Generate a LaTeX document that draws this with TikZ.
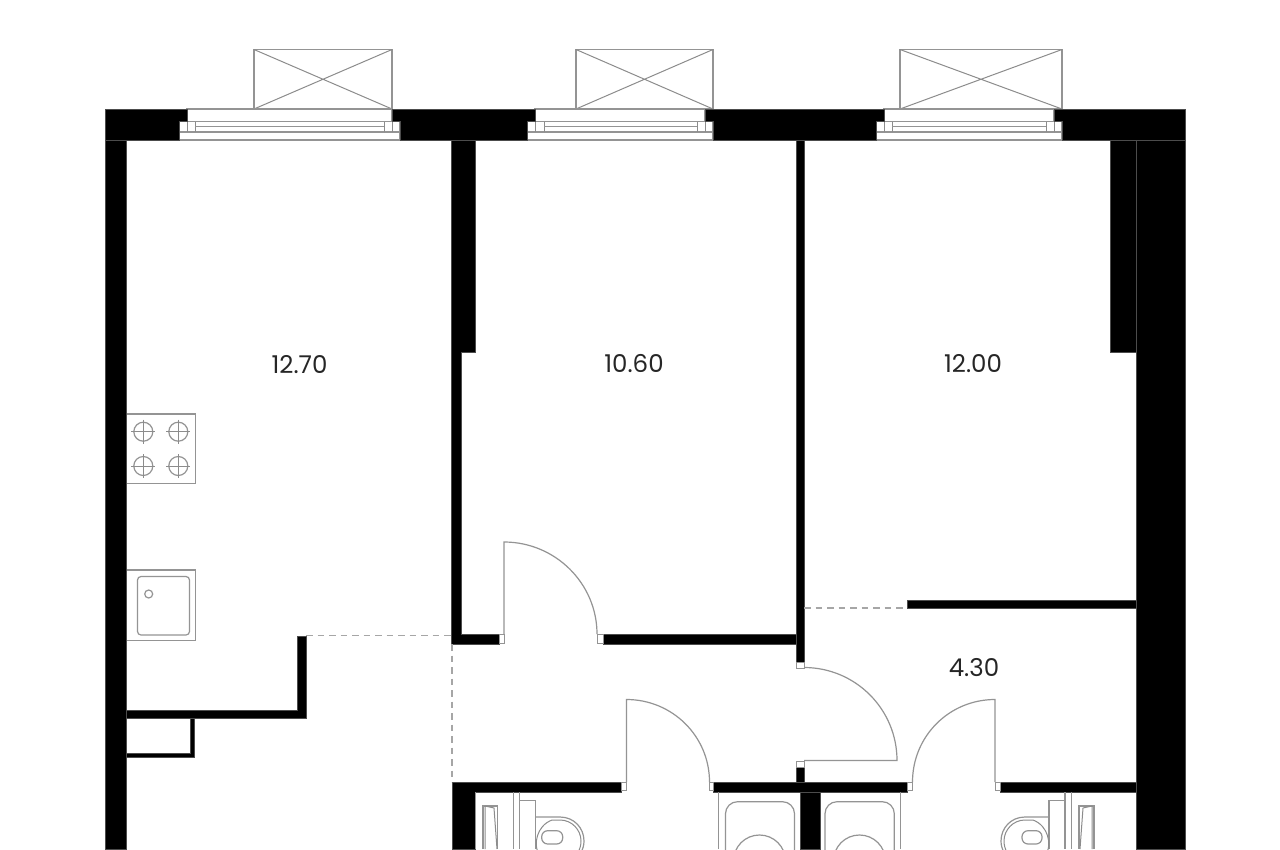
\documentclass[tikz,border=0pt]{standalone}
\usepackage{fontspec}
\setmainfont{Poppins}
\tikzset{
  wall/.style={fill=black,draw=black!70,line width=0.4pt},
  fine/.style={draw=black!42,line width=1.2pt},
  finer/.style={draw=black!45,line width=1pt},
  jamb/.style={fill=white,draw=black!42,line width=1pt},
  opening/.style={draw=black!35,line width=1.2pt,dash pattern=on 6.5pt off 5pt},
  area/.style={font=\fontsize{24.5}{27}\selectfont,text=black!85,inner sep=0pt}
}
\begin{document}
\begin{tikzpicture}[x=1pt,y=-1pt]
\useasboundingbox (0,0) rectangle (1280,849);
\fill[white] (0,0) rectangle (1280,849);
\clip (0,0) rectangle (1280,849);

% balcony boxes
\foreach \a/\b in {254/392,576/713,900/1062}{
  \draw[fine] (\a,49.5) rectangle (\b,109);
  \draw[finer] (\a,49.5) -- (\b,109) (\a,109) -- (\b,49.5);
}
% windows
\foreach \a/\ab/\ac/\bc/\bb/\b in {179/187/195/384/392/400,527/535/544/697/705/713,876/884/892/1046/1054/1062}{
  \draw[fine] (\a,121.5) rectangle (\b,140);
  \draw[fine] (\ab,109) rectangle (\bb,121.5);
  \draw[fine] (\a,132) -- (\b,132);
  \draw[finer] (\ab,121.5) -- (\ab,132) (\ac,121.5) -- (\ac,132) (\bc,121.5) -- (\bc,132) (\bb,121.5) -- (\bb,132);
  \draw[fine] (\ac,126.5) -- (\bc,126.5);
}
% kitchen fittings first, so that the outer wall covers their edge
\draw[fine] (120,414) rectangle (195.5,483.5);
\foreach \cx/\cy in {143.3/431.7,178.3/431.7,143.3/466,178.3/466}{
  \draw[fine] (\cx,\cy) circle[radius=9.5];
  \draw[finer] (\cx-12,\cy) -- (\cx+12,\cy) (\cx,\cy-12) -- (\cx,\cy+12);
}
\draw[fine] (120,570) rectangle (195.5,640.5);
\draw[fine,rounded corners=3.5pt] (137.5,576.5) rectangle (189.5,635);
\draw[fine] (148.7,594) circle[radius=4];

% top wall
\path[wall] (105,109) -- (187,109) -- (187,121.5) -- (179,121.5) -- (179,140) -- (105,140) -- cycle;
\path[wall] (392,109) -- (535,109) -- (535,121.5) -- (527,121.5) -- (527,140) -- (400,140) -- (400,121.5) -- (392,121.5) -- cycle;
\path[wall] (705,109) -- (884,109) -- (884,121.5) -- (876,121.5) -- (876,140) -- (713,140) -- (713,121.5) -- (705,121.5) -- cycle;
\path[wall] (1054,109) -- (1185,109) -- (1185,140) -- (1062,140) -- (1062,121.5) -- (1054,121.5) -- cycle;
% outer walls
\path[wall] (105,140) rectangle (126,849);
\path[wall] (1136,140) rectangle (1185,849);
\path[wall] (1110,140) rectangle (1136,352);
% partitions
\path[wall] (451.5,140) -- (475,140) -- (475,352) -- (461,352) -- (461,634) -- (499,634) -- (499,644) -- (451.5,644) -- cycle;
\path[wall] (603,634) rectangle (796,644);
\path[wall] (796,140) rectangle (804,662);
\path[wall] (907,600) rectangle (1136,608);
\path[wall] (297,636) -- (306,636) -- (306,718) -- (126,718) -- (126,710) -- (297,710) -- cycle;
\path[wall] (190,718) -- (194.5,718) -- (194.5,757.5) -- (126,757.5) -- (126,753) -- (190,753) -- cycle;
\path[wall] (452,782) -- (621,782) -- (621,792) -- (475,792) -- (475,849) -- (452,849) -- cycle;
\path[wall] (713.5,782) rectangle (907,792);
\path[wall] (800.5,792) rectangle (820,849);
\path[wall] (796,767) rectangle (804,782);
\path[wall] (1000,782) rectangle (1136,792);

% open boundaries
\draw[opening] (306,635.7) -- (451.5,635.7);
\draw[opening] (452,644) -- (452,782);
\draw[opening] (804,608) -- (907,608);

% door jambs
\path[jamb] (499,634) rectangle (504.5,643);
\path[jamb] (597,634) rectangle (603,643);
\path[jamb] (796,662) rectangle (804,668);
\path[jamb] (796,761) rectangle (804,767);
\path[jamb] (621,782) rectangle (626.5,790);
\path[jamb] (709,782) rectangle (713.5,790);
\path[jamb] (907,782) rectangle (912.5,790);
\path[jamb] (995,782) rectangle (1000,790);

% doors
\draw[fine] (504,634) -- (504,542) .. controls (555.4,542) and (597,583.6) .. (597,634);
\draw[fine] (804,667.5) .. controls (855.4,667.5) and (897,709.1) .. (897,760.5) -- (804,760.5);
\draw[fine] (626.5,782) -- (626.5,699.5) .. controls (672.3,699.5) and (709.5,736.2) .. (709.5,782);
\draw[fine] (995,782) -- (995,699.5) .. controls (949.2,699.5) and (912.5,736.2) .. (912.5,782);

% left bathroom
\draw[fine] (475.5,792) -- (475.5,849);
\draw[fine] (513.5,792) -- (513.5,849) (519.5,792) -- (519.5,849);
\draw[fine] (519.5,800.5) -- (535.5,800.5) -- (535.5,849);
\draw[fine] (483,849) -- (483,806) -- (497.3,806) -- (497.3,849);
\draw[finer] (485,806) -- (485,849) (485,806) -- (494,808) -- (497,849);
\draw[fine] (535.5,817) -- (560,817) .. controls (574,817) and (584,828) .. (584,841) .. controls (584,845) and (583,849) .. (581,852);
\draw[finer] (538,852) .. controls (534,845) and (536,826) .. (552,820) -- (560,820) .. controls (572,820) and (581,830) .. (581,841) .. controls (581,845) and (580,849) .. (578,852);
\draw[fine,rounded corners=6pt] (541.7,830.7) rectangle (562.7,844);

% right bathroom
\draw[fine] (1071.5,792) -- (1071.5,849) (1065,792) -- (1065,849);
\draw[fine] (1065,800.5) -- (1049,800.5) -- (1049,849);
\draw[fine] (1094,849) -- (1094,806) -- (1079,806) -- (1079,849);
\draw[finer] (1092,806) -- (1092,849) (1092,806) -- (1083,808) -- (1080,849);
\draw[fine] (1049,817) -- (1025,817) .. controls (1011,817) and (1001,828) .. (1001,841) .. controls (1001,845) and (1002,849) .. (1004,852);
\draw[finer] (1047,852) .. controls (1051,845) and (1049,826) .. (1033,820) -- (1025,820) .. controls (1013,820) and (1004,830) .. (1004,841) .. controls (1004,845) and (1005,849) .. (1007,852);
\draw[fine,rounded corners=6pt] (1022,830.7) rectangle (1042,844);

% tubs
\draw[fine] (718.5,792) -- (718.5,849);
\draw[fine,rounded corners=12pt] (725.5,860) -- (725.5,801.7) -- (794.5,801.7) -- (794.5,860);
\draw[fine] (759.5,861) circle[radius=26];
\draw[fine] (900.7,792) -- (900.7,849);
\draw[fine,rounded corners=12pt] (825,860) -- (825,801.7) -- (894.3,801.7) -- (894.3,860);
\draw[fine] (859.5,861) circle[radius=26];

% labels
\node[area] (kitchen) at (299.5,365) {12.70};
\node[area] (room) at (634,363.5) {10.60};
\node[area] (bedroom) at (973,363.5) {12.00};
\node[area] (hall) at (974,668) {4.30};
\end{tikzpicture}
\end{document}
